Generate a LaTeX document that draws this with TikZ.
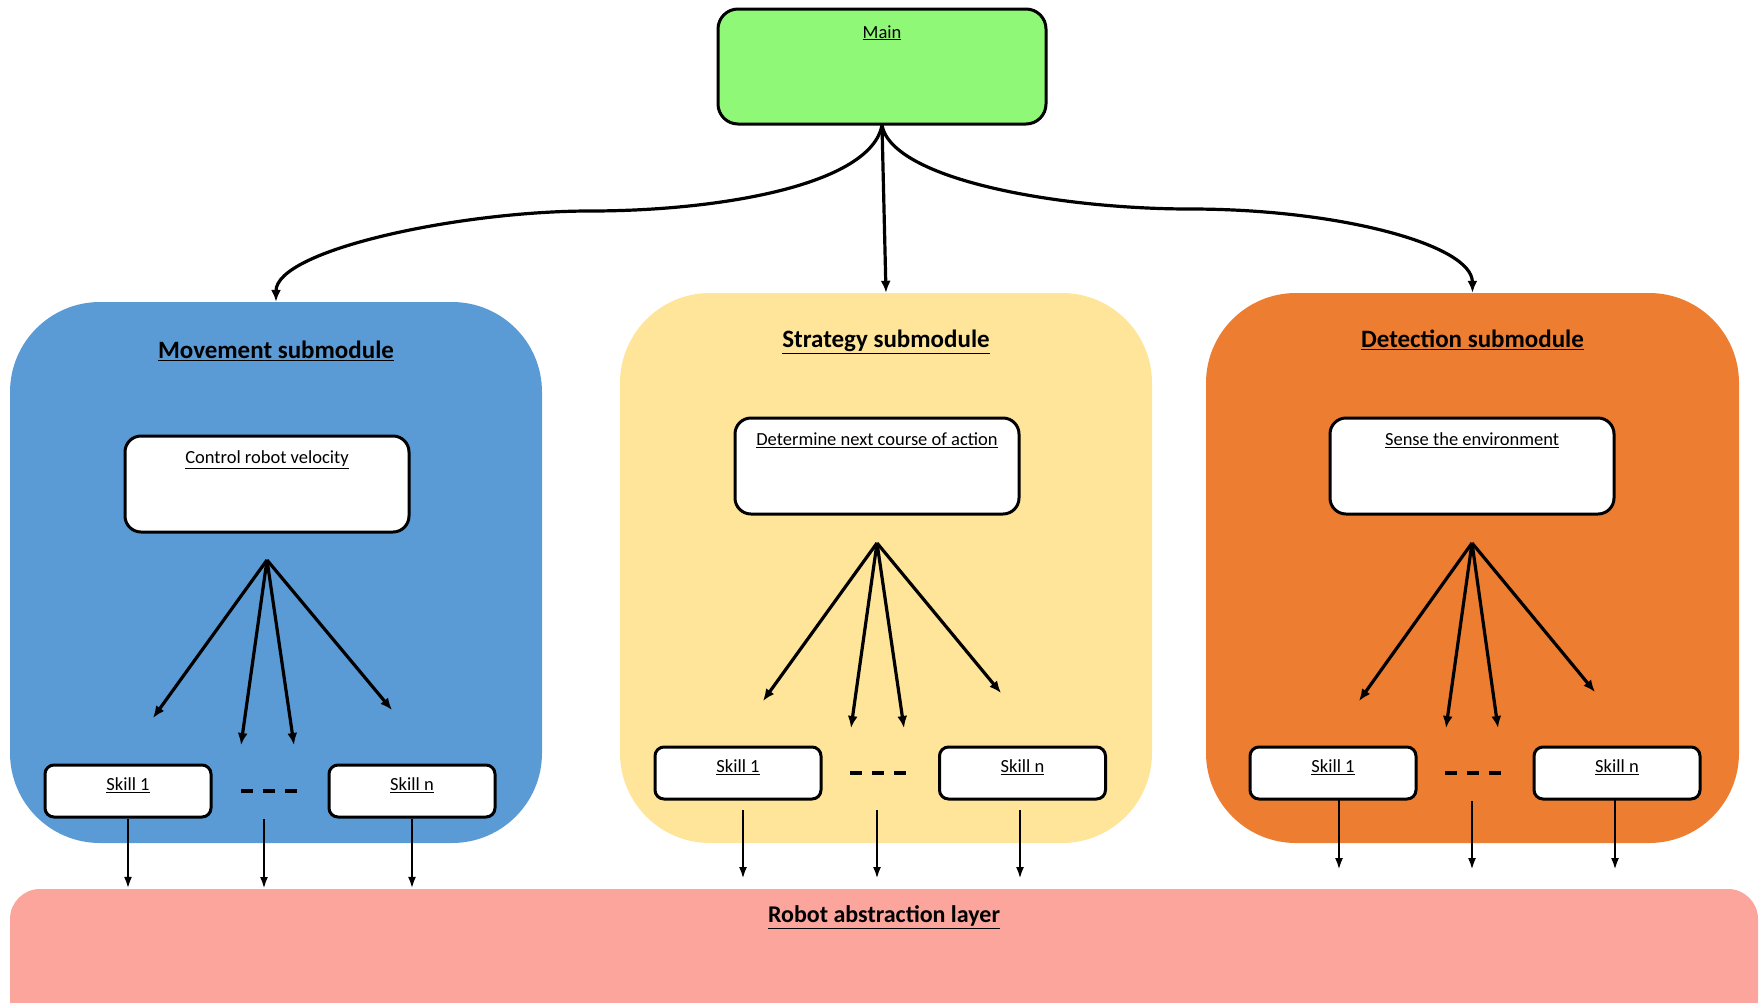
\documentclass[tikz,border=0pt]{standalone}
\usepackage{fontspec}
\setmainfont{Carlito}
\usetikzlibrary{arrows.meta}
\definecolor{cmain}{RGB}{143,249,119}
\definecolor{cmov}{RGB}{91,155,213}
\definecolor{cstrat}{RGB}{255,229,153}
\definecolor{cdet}{RGB}{237,125,49}
\definecolor{clayer}{RGB}{251,165,156}
\begin{document}
\begin{tikzpicture}[x=1pt,y=-1pt,
  modbox/.style={rounded corners=90pt, minimum width=532pt, minimum height=550pt, inner sep=0pt},
  wbox/.style={draw=black, line width=3pt, fill=white, rounded corners=16pt, minimum width=284pt, minimum height=96pt, inner sep=0pt},
  skillbox/.style={draw=black, line width=3pt, fill=white, rounded corners=9pt, minimum width=166pt, minimum height=52pt, inner sep=0pt},
  txt/.style={font=\fontsize{18.5}{22}\selectfont, inner sep=0pt, anchor=base},
  ttl/.style={font=\fontsize{25}{30}\selectfont\bfseries, inner sep=0pt, anchor=base},
  conn/.style={line width=3.2pt, -{Latex[length=12pt,width=10pt]}},
  fan/.style={line width=3.2pt, -{Latex[length=12pt,width=10pt]}},
  down/.style={line width=2.6pt, -{Latex[length=12pt,width=8pt]}},
  dots/.style={line width=3.8pt, dash pattern=on 12pt off 10pt},
]
\useasboundingbox (0,0) rectangle (1761,1002);

% robot abstraction layer
\node[fill=clayer, rounded corners=30pt, minimum width=1748pt, minimum height=142pt, inner sep=0pt,
  label={[ttl, font=\fontsize{24}{28}\selectfont\bfseries, yshift=-34pt]north:\underline{Robot abstraction layer}}]
  (layer) at (884,960) {};

% main
\node[draw=black, line width=3pt, fill=cmain, rounded corners=20pt, minimum width=328pt, minimum height=115pt, inner sep=0pt,
  label={[txt, yshift=-30.5pt]north:\underline{Main}}] (main) at (882,66.5) {};

% submodules
\node[modbox, fill=cmov, minimum height=541pt, label={[ttl, yshift=-57pt]north:\underline{Movement submodule}}] (mov) at (276,572.5) {};
\node[modbox, fill=cstrat, label={[ttl, yshift=-55pt]north:\underline{Strategy submodule}}] (strat) at (886,568) {};
\node[modbox, fill=cdet, minimum width=533pt, label={[ttl, yshift=-55pt]north:\underline{Detection submodule}}] (det) at (1472.5,568) {};

% inner boxes
\node[wbox, label={[txt, yshift=-29pt]north:\underline{Control robot velocity}}] (mctl) at (267,484) {};
\node[wbox, label={[txt, yshift=-29pt]north:\underline{Determine next course of action}}] (sctl) at (877,466) {};
\node[wbox, label={[txt, yshift=-29pt]north:\underline{Sense the environment}}] (dctl) at (1472,466) {};

% skill boxes
\node[skillbox, label={[txt, yshift=-27pt]north:\underline{Skill 1}}] (ms1) at (128,791) {};
\node[skillbox, label={[txt, yshift=-27pt]north:\underline{Skill n}}] (msn) at (412,791) {};
\node[skillbox, label={[txt, yshift=-27pt]north:\underline{Skill 1}}] (ss1) at (738,773) {};
\node[skillbox, label={[txt, yshift=-27pt]north:\underline{Skill n}}] (ssn) at (1022.5,773) {};
\node[skillbox, label={[txt, yshift=-27pt]north:\underline{Skill 1}}] (ds1) at (1333,773) {};
\node[skillbox, label={[txt, yshift=-27pt]north:\underline{Skill n}}] (dsn) at (1617,773) {};

% dashes
\coordinate (mdA) at (241,791); \coordinate (mdB) at (298,791);
\coordinate (sdA) at (850,773); \coordinate (sdB) at (907,773);
\coordinate (ddA) at (1445,773); \coordinate (ddB) at (1503,773);
\draw[dots] (mdA) -- (mdB);
\draw[dots] (sdA) -- (sdB);
\draw[dots] (ddA) -- (ddB);

% main connectors
\coordinate (lmid) at (590,211);
\coordinate (rmid) at (1190,209);
\draw[conn] (main.south) .. controls (870,185) and (720,211) .. (lmid) .. controls (460,211) and (276,250) .. (mov.north);
\draw[conn] (main.south) -- (strat.north);
\draw[conn] (main.south) .. controls (893,180) and (1060,209) .. (rmid) .. controls (1340,209) and (1472,245) .. (det.north);

% fans
\coordinate (mfan) at (267,560);
\coordinate (mf1) at (153,718); \coordinate (mf2) at (241,745); \coordinate (mf3) at (294,745); \coordinate (mf4) at (392,710);
\coordinate (sfan) at (877,543);
\coordinate (sf1) at (763,701); \coordinate (sf2) at (851,728); \coordinate (sf3) at (904,728); \coordinate (sf4) at (1001,693);
\coordinate (dfan) at (1472,543);
\coordinate (df1) at (1359,701); \coordinate (df2) at (1446,728); \coordinate (df3) at (1498,728); \coordinate (df4) at (1595,692);
\foreach \p in {m,s,d}{
  \foreach \i in {1,2,3,4}{
    \draw[fan] (\p fan) -- (\p f\i);
  }
}

% down arrows
\coordinate (mmidA) at (264,819); \coordinate (mmidB) at (264,889);
\draw[down] (ms1.south) -- (ms1.south |- layer.north);
\draw[down] (mmidA) -- (mmidB);
\draw[down] (msn.south) -- (msn.south |- layer.north);

\coordinate (s1A) at (743,810); \coordinate (s1B) at (743,879);
\coordinate (smA) at (877,810); \coordinate (smB) at (877,879);
\coordinate (snA) at (1020,810); \coordinate (snB) at (1020,879);
\draw[down] (s1A) -- (s1B);
\draw[down] (smA) -- (smB);
\draw[down] (snA) -- (snB);

\coordinate (d1A) at (1339,799); \coordinate (d1B) at (1339,870);
\coordinate (dmA) at (1472,801); \coordinate (dmB) at (1472,870);
\coordinate (dnA) at (1615,799); \coordinate (dnB) at (1615,870);
\draw[down] (d1A) -- (d1B);
\draw[down] (dmA) -- (dmB);
\draw[down] (dnA) -- (dnB);
\end{tikzpicture}
\end{document}
